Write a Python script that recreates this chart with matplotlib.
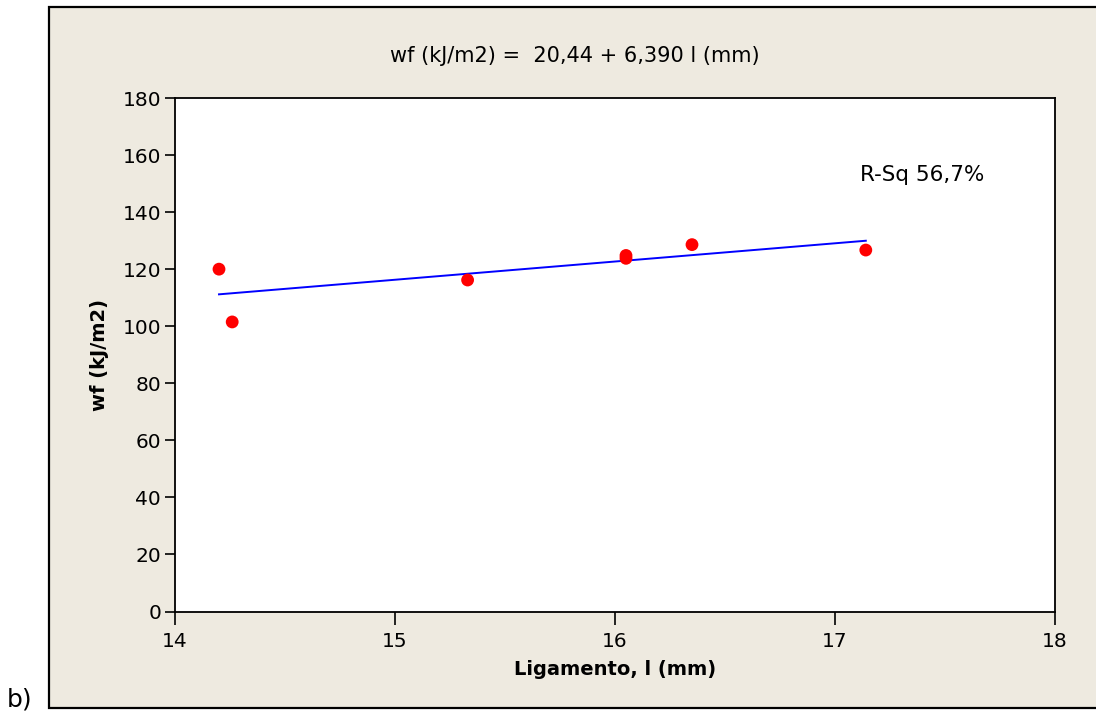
import matplotlib
matplotlib.use("Agg")
import matplotlib.pyplot as plt
from matplotlib.patches import Rectangle
import numpy as np

# Measured data: ligament length (mm) vs. work of fracture (kJ/m2)
ligamento = [14.20, 14.26, 15.33, 16.05, 16.05, 16.35, 17.14]
wf = [120.0, 101.5, 116.2, 124.8, 123.8, 128.6, 126.7]

# Regression coefficients
intercept = 20.44
slope = 6.390
r_sq_text = "R-Sq 56,7%"

x_ticks = [14, 15, 16, 17, 18]
y_ticks = [0, 20, 40, 60, 80, 100, 120, 140, 160, 180]

W, H = 1096, 720
fig = plt.figure(figsize=(W / 100, H / 100), dpi=100)
fig.patch.set_facecolor("white")

plt.rcParams["font.family"] = ["DejaVu Sans"]

# beige graph panel with black border
panel = Rectangle((48.7 / W, 1 - 708 / H), (W + 10 - 48.7) / W, (708 - 6.5) / H,
                  transform=fig.transFigure, facecolor="#EEEAE0",
                  edgecolor="black", linewidth=1.6, zorder=-5)
fig.patches.append(panel)

left, right, top, bottom = 175, 1055, 98, 611.5
ax = fig.add_axes([left / W, 1 - bottom / H, (right - left) / W, (bottom - top) / H])
ax.set_zorder(2)
ax.set_facecolor("white")

ax.set_xlim(14, 18)
ax.set_ylim(0, 180)
ax.set_xticks(x_ticks)
ax.set_yticks(y_ticks)
ax.tick_params(axis="x", direction="out", length=9, width=1.2, labelsize=14.5, pad=6, colors="black")
ax.tick_params(axis="y", direction="out", length=7, width=1.2, labelsize=14.5, pad=3, colors="black")
for s in ax.spines.values():
    s.set_linewidth(1.3)

# fitted line
xf = np.array([min(ligamento), max(ligamento)])
ax.plot(xf, intercept + slope * xf, color="#0000FF", linewidth=1.4, zorder=2)

# data points
ax.scatter(ligamento, wf, s=85, color="#FF0000", edgecolors="none", zorder=3)

ax.text(0.778, 0.850, r_sq_text, transform=ax.transAxes, fontsize=15.5, ha="left", va="center")

ax.set_xlabel("Ligamento, l (mm)", fontsize=14, fontweight="bold", labelpad=6)
ax.set_ylabel("wf (kJ/m2)", fontsize=14, fontweight="bold", labelpad=10)

fig.text(575 / W, 1 - 56 / H, "wf (kJ/m2) =  20,44 + 6,390 l (mm)", fontsize=15,
         ha="center", va="center")
fig.text(7 / W, 1 - 700 / H, "b)", fontsize=18, ha="left", va="center")

fig.savefig("out.png", dpi=100, facecolor=fig.get_facecolor())
